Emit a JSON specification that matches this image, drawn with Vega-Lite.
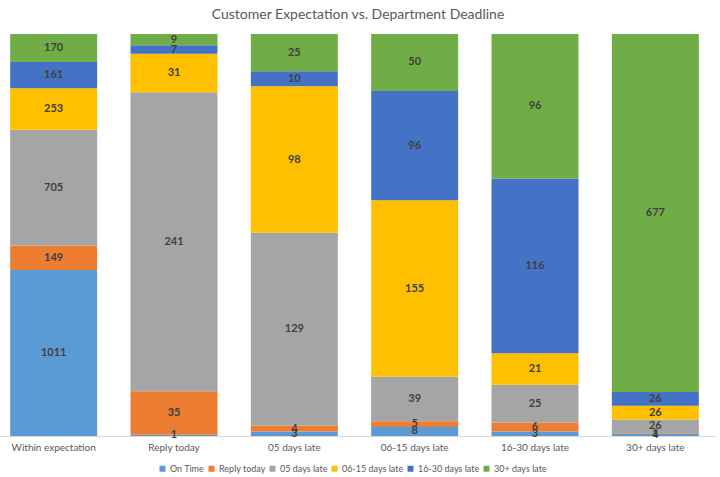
{
  "$schema": "https://vega.github.io/schema/vega-lite/v6.json",
  "width": 716,
  "height": 402,
  "autosize": {"type": "none"},
  "padding": {"left": 0, "top": 34, "right": 4, "bottom": 41},
  "background": "white",
  "config": {
    "font": "Lato",
    "view": {"stroke": null}
  },
  "title": {
    "text": "Customer Expectation vs. Department Deadline",
    "fontSize": 14,
    "fontWeight": "normal",
    "color": "#595959",
    "anchor": "middle",
    "offset": 12
  },
  "data": {
    "values": [
      {"cat": "Within expectation", "series": "On Time", "idx": 0, "value": 1011},
      {"cat": "Within expectation", "series": "Reply today", "idx": 1, "value": 149},
      {"cat": "Within expectation", "series": "05 days late", "idx": 2, "value": 705},
      {"cat": "Within expectation", "series": "06-15 days late", "idx": 3, "value": 253},
      {"cat": "Within expectation", "series": "16-30 days late", "idx": 4, "value": 161},
      {"cat": "Within expectation", "series": "30+ days late", "idx": 5, "value": 170},
      {"cat": "Reply today", "series": "On Time", "idx": 0, "value": 1},
      {"cat": "Reply today", "series": "Reply today", "idx": 1, "value": 35},
      {"cat": "Reply today", "series": "05 days late", "idx": 2, "value": 241},
      {"cat": "Reply today", "series": "06-15 days late", "idx": 3, "value": 31},
      {"cat": "Reply today", "series": "16-30 days late", "idx": 4, "value": 7},
      {"cat": "Reply today", "series": "30+ days late", "idx": 5, "value": 9},
      {"cat": "05 days late", "series": "On Time", "idx": 0, "value": 3},
      {"cat": "05 days late", "series": "Reply today", "idx": 1, "value": 4},
      {"cat": "05 days late", "series": "05 days late", "idx": 2, "value": 129},
      {"cat": "05 days late", "series": "06-15 days late", "idx": 3, "value": 98},
      {"cat": "05 days late", "series": "16-30 days late", "idx": 4, "value": 10},
      {"cat": "05 days late", "series": "30+ days late", "idx": 5, "value": 25},
      {"cat": "06-15 days late", "series": "On Time", "idx": 0, "value": 8},
      {"cat": "06-15 days late", "series": "Reply today", "idx": 1, "value": 5},
      {"cat": "06-15 days late", "series": "05 days late", "idx": 2, "value": 39},
      {"cat": "06-15 days late", "series": "06-15 days late", "idx": 3, "value": 155},
      {"cat": "06-15 days late", "series": "16-30 days late", "idx": 4, "value": 96},
      {"cat": "06-15 days late", "series": "30+ days late", "idx": 5, "value": 50},
      {"cat": "16-30 days late", "series": "On Time", "idx": 0, "value": 3},
      {"cat": "16-30 days late", "series": "Reply today", "idx": 1, "value": 6},
      {"cat": "16-30 days late", "series": "05 days late", "idx": 2, "value": 25},
      {"cat": "16-30 days late", "series": "06-15 days late", "idx": 3, "value": 21},
      {"cat": "16-30 days late", "series": "16-30 days late", "idx": 4, "value": 116},
      {"cat": "16-30 days late", "series": "30+ days late", "idx": 5, "value": 96},
      {"cat": "30+ days late", "series": "On Time", "idx": 0, "value": 4},
      {"cat": "30+ days late", "series": "Reply today", "idx": 1, "value": 1},
      {"cat": "30+ days late", "series": "05 days late", "idx": 2, "value": 26},
      {"cat": "30+ days late", "series": "06-15 days late", "idx": 3, "value": 26},
      {"cat": "30+ days late", "series": "16-30 days late", "idx": 4, "value": 26},
      {"cat": "30+ days late", "series": "30+ days late", "idx": 5, "value": 677}
    ]
  },
  "encoding": {
    "x": {
      "field": "cat",
      "type": "nominal",
      "sort": null,
      "scale": {"range": [-6.5, 715.5], "paddingInner": 0.277, "paddingOuter": 0.1385},
      "axis": {
        "title": null,
        "labelAngle": 0,
        "ticks": false,
        "labelPadding": 6,
        "labelFontSize": 10,
        "labelColor": "#595959",
        "domainColor": "#D9D9D9",
        "labelFont": "Lato"
      }
    },
    "y": {
      "field": "value",
      "type": "quantitative",
      "stack": "normalize",
      "axis": null
    },
    "order": {"field": "idx", "type": "quantitative"}
  },
  "layer": [
    {
      "mark": {"type": "bar"},
      "encoding": {
        "color": {
          "field": "series",
          "type": "nominal",
          "sort": ["On Time", "Reply today", "05 days late", "06-15 days late", "16-30 days late", "30+ days late"],
          "scale": {
            "domain": ["On Time", "Reply today", "05 days late", "06-15 days late", "16-30 days late", "30+ days late"],
            "range": ["#5B9BD5", "#ED7D31", "#A5A5A5", "#FFC000", "#4472C4", "#70AD47"]
          },
          "legend": {
            "title": null,
            "orient": "none",
            "legendX": 158,
            "legendY": 430,
            "direction": "horizontal",
            "symbolType": "square",
            "symbolSize": 36,
            "symbolStrokeWidth": 0,
            "labelFontSize": 9,
            "labelOffset": 3,
            "labelColor": "#595959",
            "columnPadding": 2
          }
        }
      }
    },
    {
      "mark": {"type": "text", "fontSize": 11, "fontWeight": "bold", "color": "#404040"},
      "encoding": {
        "y": {
          "field": "value",
          "type": "quantitative",
          "stack": "normalize",
          "bandPosition": 0.5
        },
        "text": {"field": "value", "type": "quantitative"}
      }
    }
  ]
}
